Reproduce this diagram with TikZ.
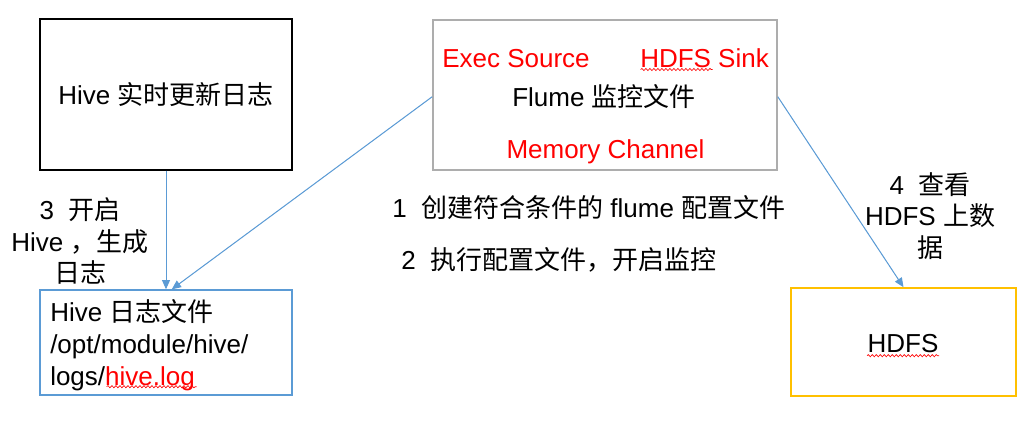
\documentclass[tikz,border=0pt]{standalone}
\usepackage{fontspec}
\setmainfont{Liberation Sans}
\newfontfamily\cjk{Noto Sans CJK SC}
\usetikzlibrary{arrows.meta,positioning,decorations.pathmorphing}
\definecolor{lineblue}{HTML}{5B9BD5}
\definecolor{boxgold}{HTML}{FFC000}
\definecolor{boxgray}{HTML}{ADADAD}
\newcommand{\zh}[1]{{\cjk #1}}

\begin{document}
\begin{tikzpicture}[
  x=0.75pt,y=-0.75pt,
  font=\fontsize{19.5}{23.8}\selectfont,
  box/.style={draw,line width=1pt,inner sep=0pt,align=center},
  label/.style={inner sep=0pt,align=center},
  redtext/.style={inner sep=0pt,text=red},
  flow/.style={-{Triangle[length=7pt,width=6pt]},draw=lineblue,fill=lineblue,line width=0.75pt},
  squiggle/.style={draw=red,line width=0.5pt,decorate,
                   decoration={snake,amplitude=0.8pt,segment length=3pt}}
]
\fill[white] (0,0) rectangle (1035,425);
\useasboundingbox (0,0) rectangle (1035,425);

% boxes
\node[box,minimum width=189pt,minimum height=113.25pt] (hive) at (166,94.5) {};
\node[box,draw=boxgray,line width=1.2pt,minimum width=258pt,minimum height=112.5pt] (flume) at (605,95) {};
\node[box,draw=lineblue,minimum width=189pt,minimum height=78.75pt] (log) at (166,342.5) {};
\node[box,draw=boxgold,line width=1.2pt,minimum width=168.75pt,minimum height=81pt] (hdfs) at (903.5,342) {};

% texts in the boxes
\node[inner sep=0pt,anchor=base] (hivetxt) at (166,104.3) {Hive \zh{实时更新日志}};
\node[redtext,anchor=base west] (source) at (442,67) {Exec Source};
\node[redtext,anchor=base west] (sink) at (640,67) {HDFS Sink};
\node[inner sep=0pt,anchor=base] (flumetxt) at (604,106) {Flume \zh{监控文件}};
\node[redtext,anchor=base] (channel) at (605.5,158) {Memory Channel};
\node[inner sep=0pt,anchor=west,align=left] (logtxt) at (50,345)
  {Hive \zh{日志文件}\\/opt/module/hive/\\logs/\textcolor{red}{hive.log}};
\node[inner sep=0pt,anchor=base] (hdfstxt) at (903,352) {HDFS};

% step labels
\node[label] (step3) at (80,241) {3~~\zh{开启}\\Hive \zh{，生成}\\\zh{日志}};
\node[inner sep=0pt,anchor=base west] (step1) at (392,217.3) {1~~\zh{创建符合条件的} flume \zh{配置文件}};
\node[inner sep=0pt,anchor=base west] (step2) at (401,269.3) {2~~\zh{执行配置文件，开启监控}};
\node[label] (step4) at (930,216) {4~~\zh{查看}\\HDFS \zh{上数}\\\zh{据}};

% spell-check marks
\draw[squiggle] (640.7,69.5) -- (712.7,69.5);
\draw[squiggle] (106.7,386.7) -- (196.7,386.7);
\draw[squiggle] (867,355.7) -- (939,355.7);

% connectors
\draw[flow] (hive.south) -- (log.north);
\draw[flow] ([yshift=-1.3pt]flume.west) -- ([xshift=4.3pt]log.north);
\draw[flow] ([yshift=-1.3pt]flume.east) -- (hdfs.north);
\end{tikzpicture}
\end{document}
